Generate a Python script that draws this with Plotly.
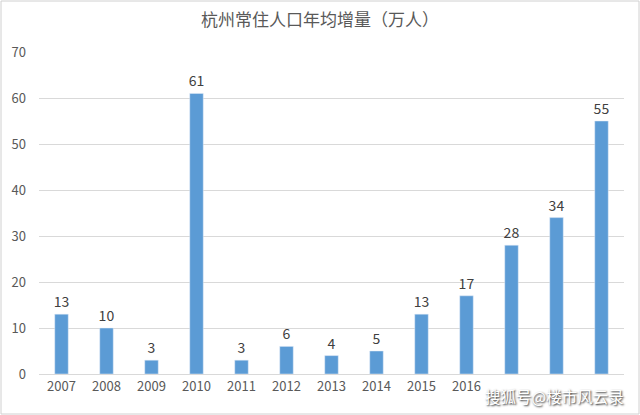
import plotly.graph_objects as go

years = ["2007", "2008", "2009", "2010", "2011", "2012", "2013",
         "2014", "2015", "2016", "2017", "2018", "2019"]
increase = [13, 10, 3, 61, 3, 6, 4, 5, 13, 17, 28, 34, 55]
# the last three year labels are hidden under the watermark in the source
visible_years = years[:10]

title_text = "杭州常住人口年均增量（万人）"
watermark = "搜狐号@楼市风云录"

W, H = 640, 415
ml, mr, mt, mb = 39, 16, 52, 41
pw = W - ml - mr
ph = H - mt - mb

fig = go.Figure(
    go.Bar(
        x=years,
        y=increase,
        marker_color="#5b9bd5",
        text=increase,
        textposition="outside",
        constraintext="none",
        textfont=dict(size=14, color="#404040"),
        cliponaxis=False,
        width=0.3,
    )
)

fig.update_layout(
    width=W,
    height=H,
    margin=dict(l=ml, r=mr, t=mt, b=mb),
    paper_bgcolor="white",
    plot_bgcolor="white",
    font=dict(family="Noto Sans CJK SC, sans-serif", color="#595959", size=13),
    title=dict(
        text=title_text,
        x=0.5,
        xanchor="center",
        y=1 - 20 / H,
        yanchor="middle",
        font=dict(size=17, color="#595959"),
    ),
    showlegend=False,
    xaxis=dict(
        showgrid=False,
        showline=True,
        linecolor="#d9d9d9",
        ticks="",
        tickvals=visible_years,
        tickfont=dict(size=13, color="#595959"),
    ),
    yaxis=dict(
        range=[0, 70],
        dtick=10,
        showgrid=True,
        gridcolor="#d9d9d9",
        zeroline=False,
        ticks="",
        ticklabelstandoff=12,
        tickfont=dict(size=13, color="#595959"),
    ),
    shapes=[
        dict(
            type="rect",
            xref="paper",
            yref="paper",
            x0=-(ml - 1) / pw,
            x1=1 + (mr - 1) / pw,
            y0=-(mb - 1) / ph,
            y1=1 + (mt - 1) / ph,
            line=dict(color="#d0d0d0", width=1),
        )
    ],
    annotations=[
        dict(
            text=watermark,
            xref="paper",
            yref="paper",
            x=(626 - ml) / pw,
            y=-(396 - (H - mb)) / ph,
            xanchor="right",
            yanchor="middle",
            showarrow=False,
            font=dict(size=15.5, color="white", shadow="1px 1px 2px #222222"),
        )
    ],
)

fig.write_html(
    "out.html",
    config={"displayModeBar": False},
    post_script="document.body.style.margin='0';",
)
